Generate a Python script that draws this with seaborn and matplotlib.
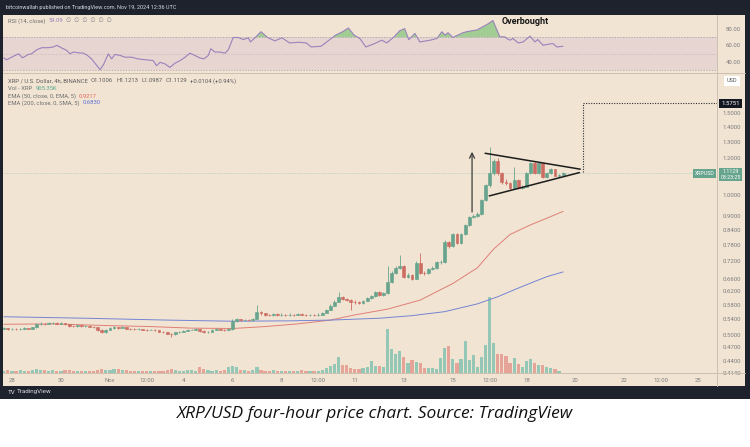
import matplotlib
matplotlib.use("Agg")
import matplotlib.pyplot as plt
import seaborn as sns
import numpy as np
import pandas as pd
from matplotlib.patches import Rectangle
from matplotlib.lines import Line2D
from matplotlib.ticker import FixedLocator, NullLocator, FixedFormatter

# ---------------- data (4h candles, index 0 = Oct 27 16:00 UTC) ----------------
first_open = 0.516
closes = [
    0.517, 0.515, 0.516, 0.514, 0.516, 0.517, 0.516, 0.519,
    0.527, 0.529, 0.528, 0.530, 0.531, 0.529, 0.530, 0.528,
    0.523, 0.522, 0.524, 0.522, 0.523, 0.521, 0.519,
    0.512, 0.507, 0.512, 0.517, 0.519, 0.518, 0.520,
    0.516, 0.515, 0.514, 0.515, 0.513, 0.512, 0.513, 0.511, 0.508, 0.506, 0.503,
    0.502, 0.506, 0.508, 0.510, 0.512, 0.513, 0.514,
    0.510, 0.507, 0.508, 0.512, 0.515, 0.513, 0.512,
    0.514, 0.536, 0.540, 0.538, 0.539, 0.537, 0.541,
    0.560, 0.556, 0.553, 0.551, 0.554, 0.552, 0.553, 0.551, 0.553, 0.552, 0.554, 0.553, 0.551, 0.552, 0.551, 0.553,
    0.557, 0.566, 0.578, 0.589, 0.603, 0.598, 0.595, 0.589, 0.588, 0.586, 0.592, 0.600, 0.606, 0.618, 0.610, 0.614,
    0.650, 0.680, 0.697, 0.705, 0.667, 0.672, 0.660, 0.714, 0.680, 0.678, 0.692, 0.697, 0.716, 0.718,
    0.792, 0.778, 0.824, 0.790, 0.824, 0.862, 0.897, 0.902, 0.910, 0.976, 1.051, 1.115,
    1.185, 1.115, 1.068, 1.060, 1.034, 1.077, 1.034, 1.042, 1.115, 1.170, 1.115, 1.170, 1.095, 1.115, 1.135, 1.100, 1.105, 1.1129,
]
highs = [
    0.519, 0.518, 0.518, 0.517, 0.518, 0.519, 0.518, 0.521,
    0.530, 0.532, 0.531, 0.533, 0.534, 0.533, 0.532, 0.531,
    0.529, 0.525, 0.526, 0.525, 0.525, 0.524, 0.522,
    0.520, 0.514, 0.514, 0.519, 0.522, 0.521, 0.523,
    0.521, 0.518, 0.517, 0.517, 0.516, 0.515, 0.515, 0.514, 0.512, 0.509, 0.507,
    0.505, 0.508, 0.510, 0.512, 0.514, 0.516, 0.517,
    0.515, 0.511, 0.510, 0.514, 0.517, 0.516, 0.515,
    0.517, 0.540, 0.544, 0.542, 0.542, 0.541, 0.544,
    0.580, 0.563, 0.558, 0.555, 0.557, 0.556, 0.556, 0.555, 0.556, 0.555, 0.557, 0.556, 0.555, 0.555, 0.554, 0.556,
    0.560, 0.569, 0.582, 0.593, 0.618, 0.606, 0.601, 0.597, 0.593, 0.591, 0.595, 0.604, 0.610, 0.622, 0.621, 0.618,
    0.705, 0.686, 0.702, 0.743, 0.708, 0.678, 0.676, 0.720, 0.750, 0.686, 0.697, 0.702, 0.722, 0.724,
    0.798, 0.796, 0.830, 0.828, 0.830, 0.868, 0.902, 0.910, 0.918, 0.982, 1.058, 1.268,
    1.195, 1.200, 1.122, 1.080, 1.066, 1.150, 1.082, 1.050, 1.122, 1.178, 1.180, 1.176, 1.174, 1.122, 1.142, 1.138, 1.110, 1.121,
]
lows = [
    0.514, 0.513, 0.513, 0.512, 0.513, 0.515, 0.514, 0.515,
    0.518, 0.526, 0.526, 0.527, 0.529, 0.527, 0.527, 0.526,
    0.521, 0.520, 0.521, 0.520, 0.521, 0.519, 0.517,
    0.510, 0.504, 0.505, 0.511, 0.516, 0.516, 0.517,
    0.514, 0.513, 0.512, 0.513, 0.511, 0.510, 0.511, 0.509, 0.506, 0.504, 0.501,
    0.495, 0.500, 0.505, 0.507, 0.509, 0.511, 0.512,
    0.508, 0.505, 0.505, 0.507, 0.511, 0.511, 0.510,
    0.511, 0.513, 0.534, 0.535, 0.536, 0.535, 0.536,
    0.540, 0.552, 0.550, 0.549, 0.550, 0.550, 0.550, 0.549, 0.550, 0.550, 0.551, 0.551, 0.549, 0.549, 0.549, 0.550,
    0.552, 0.556, 0.565, 0.576, 0.587, 0.594, 0.590, 0.566, 0.584, 0.582, 0.584, 0.590, 0.598, 0.604, 0.606, 0.607,
    0.612, 0.646, 0.676, 0.694, 0.662, 0.662, 0.655, 0.658, 0.676, 0.672, 0.675, 0.688, 0.694, 0.710,
    0.714, 0.770, 0.774, 0.784, 0.786, 0.820, 0.858, 0.890, 0.896, 0.906, 0.970, 1.040,
    1.105, 1.105, 1.058, 1.050, 1.025, 1.030, 1.028, 1.030, 1.038, 1.110, 1.108, 1.110, 1.088, 1.090, 1.110, 1.096, 1.097, 1.0987,
]
volumes_m = [  # millions of XRP
    8, 12, 8, 8, 12, 8, 8, 12,
    16, 12, 12, 8, 12, 8, 8, 12,
    12, 8, 8, 8, 8, 8, 8,
    12, 16, 12, 12, 16, 16, 12,
    12, 8, 8, 8, 8, 8, 8, 8, 8, 8, 12,
    16, 12, 8, 8, 12, 12, 8,
    24, 16, 12, 8, 12, 8, 12,
    24, 28, 24, 12, 12, 8, 12,
    24, 12, 8, 8, 12, 8, 8, 8, 8, 8, 8, 12, 8, 8, 8, 8,
    12, 20, 28, 36, 64, 32, 32, 20, 16, 16, 20, 24, 48, 28, 28, 24,
    176, 96, 76, 88, 64, 40, 52, 44, 40, 20, 20, 20, 16, 60,
    100, 108, 56, 40, 56, 128, 52, 72, 24, 64, 112, 304,
    120, 76, 76, 68, 40, 60, 36, 24, 48, 56, 40, 32, 32, 24, 20, 16, 8, 0.9,
]
ema50_points = [(0, 0.527), (12, 0.528), (24, 0.524), (36, 0.521), (46, 0.517), (56, 0.516),
                (64, 0.521), (72, 0.528), (80, 0.538), (86, 0.552), (94, 0.568), (102, 0.594),
                (110, 0.645), (116, 0.697), (120, 0.765), (124, 0.822), (129, 0.862),
                (133, 0.891), (137, 0.9217)]
ema200_points = [(0, 0.547), (20, 0.543), (40, 0.538), (56, 0.535), (70, 0.536), (80, 0.538),
                 (92, 0.543), (100, 0.550), (108, 0.561), (116, 0.583), (121, 0.604),
                 (125, 0.625), (129, 0.646), (133, 0.667), (137, 0.683)]
rsi_points = [
    (0, 45.0), (0.7, 42.5), (1.9, 45.8), (3.6, 49.9), (4.6, 45.0), (6.0, 49.1), (6.8, 49.9),
    (8.1, 54.9), (9.3, 57.3), (10.9, 57.3), (12.1, 58.2), (13.0, 60.2), (14.2, 56.9), (15.4, 54.0),
    (16.2, 49.9), (17.0, 52.0), (18.2, 51.2), (19.5, 50.7), (20.5, 47.9), (21.5, 43.7), (22.8, 35.5),
    (23.6, 30.6), (24.5, 37.6), (25.6, 49.9), (26.4, 43.7), (27.2, 49.1), (28.5, 47.9), (29.7, 45.8),
    (31.3, 45.8), (32.9, 43.7), (35.0, 42.5), (36.6, 41.7), (37.4, 35.5), (38.3, 39.6), (39.5, 37.6),
    (40.7, 33.4), (41.9, 38.4), (43.2, 41.7), (44.4, 45.8), (45.6, 50.7), (46.8, 47.9), (48.0, 45.0),
    (49.0, 43.7), (50.1, 47.9), (50.7, 56.1), (51.7, 52.0), (52.9, 52.0), (54.2, 50.7), (55.0, 54.9),
    (56.2, 69.7), (57.4, 69.7), (58.7, 67.2), (59.9, 69.3), (60.4, 64.3), (61.6, 69.7), (63.0, 76.7),
    (64.6, 69.7), (66.4, 65.6), (68.1, 69.3), (70.0, 63.1), (72.3, 63.9), (74.1, 63.1), (75.3, 58.2),
    (77.7, 59.0), (79.1, 64.3), (81.3, 72.6), (83.0, 76.7), (84.4, 81.2), (85.8, 72.6), (87.2, 68.5),
    (88.7, 58.2), (90.8, 62.3), (92.6, 66.4), (93.8, 63.1), (95.6, 70.5), (97.0, 77.9), (98.2, 80.5),
    (99.2, 67.0), (100.7, 74.6), (101.9, 64.3), (104.4, 66.4), (106.1, 68.5), (107.3, 76.7),
    (108.1, 72.6), (108.8, 75.5), (110.0, 69.7), (111.2, 72.6), (112.5, 75.5), (113.4, 76.7),
    (114.7, 77.9), (115.9, 78.8), (117.4, 82.9), (118.6, 86.2), (119.8, 90.3), (121.5, 70.5),
    (122.7, 70.5), (123.2, 68.5), (124.0, 66.4), (124.7, 68.5), (126.0, 63.1), (127.2, 64.3),
    (128.9, 71.3), (130.1, 64.3), (130.8, 67.2), (132.1, 60.2), (133.3, 61.5), (134.5, 62.3),
    (135.5, 58.2), (137.0, 59.09),
]
price_ticks = [1.5, 1.4, 1.3, 1.2, 1.0, 0.9, 0.84, 0.78, 0.72, 0.66, 0.62, 0.58, 0.54, 0.50, 0.47, 0.44, 0.414]
rsi_ticks = [80, 60, 40]
time_tick_idx = [2, 14, 26, 35, 44, 56, 68, 77, 86, 98, 110, 119, 128, 140, 152, 161, 170]
time_tick_labels = ["28", "30", "Nov", "12:00", "4", "6", "8", "12:00", "11", "13", "15",
                    "12:00", "18", "20", "22", "12:00", "25"]
target_price = 1.5751
last_price = 1.1129

# ---------------- style ----------------
sns.set_theme(style="white")
plt.rcParams['font.family'] = ['Roboto', 'DejaVu Sans']

W, H = 750, 447
fig = plt.figure(figsize=(7.5, 4.47), dpi=100)
fig.patch.set_facecolor('white')

def fx(x):
    return x / W

def fy(y):
    return 1 - y / H

def frect(x0, y0, x1, y1, color, z=-10):
    fig.add_artist(Rectangle((fx(x0), fy(y1)), (x1 - x0) / W, (y1 - y0) / H,
                             transform=fig.transFigure, facecolor=color,
                             edgecolor='none', zorder=z))

def fline(x0, y0, x1, y1, color='#cbbfaf', lw=0.7, z=5):
    fig.add_artist(Line2D([fx(x0), fx(x1)], [fy(y0), fy(y1)], transform=fig.transFigure,
                          color=color, lw=lw, zorder=z))

BG = '#f1e4d3'
GREEN = '#67a48d'
RED = '#cc6c62'
VGREEN = '#94c7b5'
VRED = '#e6a397'
GREY = '#7d7d7d'

frect(0, 0, 750, 399, '#1e222d', z=-10)
frect(3, 15, 745, 386, BG, z=-9)

ax_rsi = fig.add_axes([fx(3), fy(73), 714 / W, 58 / H])
ax = fig.add_axes([fx(3), fy(373), 714 / W, 300 / H])
axv = ax.twinx()
for a in (ax_rsi, ax, axv):
    a.patch.set_visible(False)
    for s in a.spines.values():
        s.set_visible(False)
    a.grid(False)
ax.set_zorder(3)
axv.set_zorder(2)
ax_rsi.set_zorder(3)

n = len(closes)
idx = np.arange(n)
opens = [first_open] + closes[:-1]
df = pd.DataFrame({"i": idx, "open": opens, "close": closes, "high": highs,
                   "low": lows, "vol": volumes_m})
df["up"] = df["close"] >= df["open"]
ccol = np.where(df["up"], GREEN, RED)
vcol = np.where(df["up"], VGREEN, VRED)

xlim = (-0.2, 174.7)

# volume
axv.bar(df["i"], df["vol"], width=0.78, color=vcol, linewidth=0)
axv.set_ylim(0, 1200)
axv.set_yticks([])
axv.set_xlim(*xlim)

# candles
ax.vlines(df["i"], df["low"], df["high"], colors=ccol, lw=0.6, zorder=3)
body_lo = np.minimum(df["open"], df["close"])
body_h = np.abs(df["close"] - df["open"])
ax.bar(df["i"], body_h, bottom=body_lo, width=0.7, color=ccol, edgecolor=ccol,
       linewidth=0.45, zorder=4)

# EMAs
e50 = pd.DataFrame(ema50_points, columns=["i", "v"])
e200 = pd.DataFrame(ema200_points, columns=["i", "v"])
sns.lineplot(data=e50, x="i", y="v", ax=ax, color='#e07f76', lw=0.7, zorder=2)
sns.lineplot(data=e200, x="i", y="v", ax=ax, color='#7584d3', lw=0.7, zorder=2)

ax.set_yscale('log')
ax.set_ylim(0.414, 1.829)
ax.set_xlim(*xlim)
ax.set_xlabel("")
ax.set_ylabel("")
ax.yaxis.set_major_locator(FixedLocator(price_ticks))
ax.yaxis.set_minor_locator(NullLocator())
ax.yaxis.set_major_formatter(FixedFormatter([f"{p:.4f}" for p in price_ticks]))
ax.yaxis.tick_right()
ax.tick_params(axis='y', which='both', length=0, labelsize=4.3, labelcolor=GREY, pad=4,
               right=True, labelright=True, left=False, labelleft=False)
ax.set_xticks(time_tick_idx)
ax.set_xticklabels(time_tick_labels)
ax.tick_params(axis='x', length=0, labelsize=4.3, labelcolor=GREY, pad=3.5)

# current price line
ax.axhline(last_price, color='#9cc4b2', lw=0.5, ls=(0, (1, 1.5)), zorder=1)

# triangle pattern, flagpole arrow and projection
ax.plot([117.9, 141.2], [1.229, 1.136], color='#1c1c1c', lw=1.1, zorder=6)
ax.plot([118.9, 141.0], [0.995, 1.117], color='#1c1c1c', lw=1.1, zorder=6)
ax.annotate("", xy=(114.7, 1.238), xytext=(114.7, 0.919),
            arrowprops=dict(arrowstyle='->', lw=0.9, color='#3b3b3b', mutation_scale=9,
                            shrinkA=0, shrinkB=0), zorder=6)
ax.plot([141.9, 141.9], [1.12, target_price], color='#2e2e2e', lw=0.8, ls=(0, (1, 1.3)), zorder=6)
ax.plot([141.9, xlim[1]], [target_price, target_price], color='#2e2e2e', lw=0.8,
        ls=(0, (1, 1.3)), zorder=6)

# RSI panel
rsi = pd.DataFrame(rsi_points, columns=["i", "v"])
ax_rsi.axhspan(30, 70, color='#e7d5d2', lw=0, zorder=0)
for lvl, c in ((70, '#a59aa8'), (50, '#c2b7bd'), (30, '#a59aa8')):
    ax_rsi.axhline(lvl, color=c, lw=0.5, ls=(0, (2, 2)), zorder=1)
ax_rsi.fill_between(rsi["i"], rsi["v"], 70, where=rsi["v"] > 70, interpolate=True,
                    color='#93c98a', alpha=0.85, lw=0, zorder=2)
sns.lineplot(data=rsi, x="i", y="v", ax=ax_rsi, color='#9a82bb', lw=0.8, zorder=3)
ax_rsi.set_xlim(*xlim)
ax_rsi.set_ylim(26.6, 97)
ax_rsi.set_xticks([])
ax_rsi.set_xlabel("")
ax_rsi.set_ylabel("")
ax_rsi.yaxis.tick_right()
ax_rsi.set_yticks(rsi_ticks)
ax_rsi.set_yticklabels([f"{t:.2f}" for t in rsi_ticks])
ax_rsi.tick_params(axis='y', length=0, labelsize=4.3, labelcolor=GREY, pad=6,
                   right=True, labelright=True, left=False, labelleft=False)

# separators
fline(3, 73, 745, 73)
fline(717, 15, 717, 386)
fline(3, 373, 745, 373)

# texts
fig.text(fx(6), fy(8), "bitcoinwallah published on TradingView.com, Nov 19, 2024 12:36 UTC",
         color='#d8dae0', fontsize=4, va='center', ha='left')
fig.text(fx(525), fy(21), "Overbought", color='#161616', fontsize=6.5, fontweight='bold',
         va='center', ha='center')

renderer = fig.canvas.get_renderer()

def seq(x, y, parts, fs=4.2, gap=3):
    for s, c in parts:
        t = fig.text(fx(x), fy(y), s, color=c, fontsize=fs, va='center', ha='left', zorder=10)
        bb = t.get_window_extent(renderer=renderer)
        x = bb.x1 + gap

seq(8, 21, [("RSI (14, close)", '#6f6f6f'), ("59.09", '#9a82bb'),
            ("\u2205  \u2205  \u2205  \u2205  \u2205  \u2205", '#8a8a8a')])
seq(8, 81, [("XRP / U.S. Dollar, 4h, BINANCE", '#5c5c5c'), ("O1.1006", '#5c5c5c'),
            ("H1.1213", '#5c5c5c'), ("L1.0987", '#5c5c5c'), ("C1.1129", '#5c5c5c'),
            ("+0.0104 (+0.94%)", '#5c5c5c')])
seq(8, 88, [("Vol - XRP", '#6f6f6f'), ("905.35K", '#5aa88f')])
seq(8, 96, [("EMA (50, close, 0, EMA, 5)", '#6f6f6f'), ("0.9217", '#e0655c')])
seq(8, 103, [("EMA (200, close, 0, SMA, 5)", '#6f6f6f'), ("0.6830", '#5a6fd6')])

# axis boxes
fig.text(fx(732), fy(80.5), "USD", color='#555555', fontsize=4, ha='center', va='center',
         bbox=dict(boxstyle='square,pad=0.45', fc='white', ec='none'), zorder=10)
fig.text(fx(730.5), fy(103.5), f"{target_price:.4f}", color='white', fontsize=4.3,
         ha='center', va='center', bbox=dict(boxstyle='square,pad=0.3', fc='#131722', ec='none'),
         zorder=10)
fig.text(fx(730.5), fy(174.5), f"{last_price:.4f}\n03:23:25", color='white', fontsize=3.9,
         ha='center', va='center', linespacing=1.15,
         bbox=dict(boxstyle='square,pad=0.3', fc=GREEN, ec='none'), zorder=10)
fig.text(fx(704.5), fy(173.5), "XRPUSD", color='white', fontsize=3.8, ha='center', va='center',
         bbox=dict(boxstyle='square,pad=0.3', fc=GREEN, ec='none'), zorder=10)

# bottom bar logo
seq(8, 392, [("TV", '#d8dae0'), ("TradingView", '#d8dae0')], fs=4.5, gap=1.5)

# caption
fig.text(0.5, fy(414), "XRP/USD four-hour price chart. Source: TradingView", ha='center',
         va='center', fontsize=12.5, style='italic', family=['Open Sans', 'DejaVu Sans'],
         color='#111111')

fig.savefig("out.png", dpi=100, facecolor='white')
